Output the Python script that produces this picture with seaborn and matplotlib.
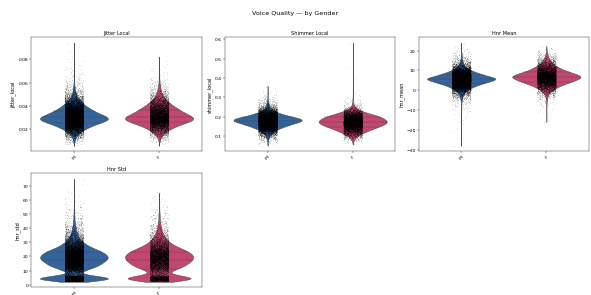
import numpy as np
import pandas as pd
import matplotlib
matplotlib.use("Agg")
import matplotlib.pyplot as plt
import seaborn as sns

# ---------------- data (frequency tables) ----------------
genders = ["M", "F"]
palette_colors = ["#2463ad", "#d6336c"]

jitter_step = 0.002
jitter_levels = [0.006, 0.008, 0.010, 0.012, 0.014, 0.016, 0.018, 0.020, 0.022, 0.024,
                 0.026, 0.028, 0.030, 0.032, 0.034, 0.036, 0.038, 0.040, 0.042, 0.044,
                 0.046, 0.048, 0.050, 0.052, 0.054, 0.056, 0.058, 0.060, 0.062, 0.064,
                 0.066, 0.068, 0.070, 0.072, 0.074, 0.076, 0.078, 0.080, 0.082, 0.084,
                 0.086, 0.088, 0.090, 0.092, 0.094]
jitter_counts_M = [1, 16, 31, 63, 126, 216, 342, 540, 774, 1062,
                   1386, 1728, 1764, 1512, 1242, 990, 792, 612, 468, 342,
                   234, 162, 108, 76, 54, 36, 25, 18, 14, 10,
                   8, 6, 5, 4, 3, 2, 2, 1, 1, 0,
                   1, 0, 1, 0, 1]
jitter_counts_F = [1, 5, 15, 32, 65, 115, 185, 290, 420, 580,
                   760, 950, 960, 850, 720, 600, 500, 400, 310, 235,
                   170, 120, 85, 60, 42, 30, 21, 15, 10, 7,
                   5, 4, 3, 2, 2, 1, 1, 0, 1, 0,
                   0, 0, 0, 0, 0]

shimmer_step = 0.01
shimmer_levels = [0.05, 0.06, 0.07, 0.08, 0.09, 0.10, 0.11, 0.12, 0.13, 0.14,
                  0.15, 0.16, 0.17, 0.18, 0.19, 0.20, 0.21, 0.22, 0.23, 0.24,
                  0.25, 0.26, 0.27, 0.28, 0.29, 0.30, 0.31, 0.32, 0.33, 0.34,
                  0.35, 0.36, 0.40, 0.45, 0.50, 0.583]
shimmer_counts_M = [1, 10, 17, 32, 59, 105, 179, 294, 462, 693,
                    987, 1323, 1722, 2079, 2037, 1470, 1008, 651, 399, 231,
                    137, 84, 53, 32, 21, 13, 8, 6, 4, 2,
                    2, 1, 0, 0, 0, 0]
shimmer_counts_F = [0, 2, 9, 28, 55, 110, 202, 304, 432, 552,
                    690, 828, 920, 902, 828, 736, 570, 386, 221, 110,
                    55, 28, 14, 7, 5, 3, 2, 1, 1, 1,
                    0, 0, 1, 1, 0, 1]

hnr_mean_step = 1.0
hnr_mean_levels = list(range(-28, 25))
hnr_mean_counts_M = [1, 0, 0, 0, 1, 0, 0, 1, 0, 1,
                     0, 1, 1, 1, 1, 2, 2, 3, 4, 6,
                     8, 13, 19, 32, 53, 84, 137, 210, 336, 525,
                     777, 1092, 1470, 1890, 2058, 1638, 1218, 882, 588, 378,
                     231, 147, 95, 63, 42, 27, 17, 11, 6, 4,
                     2, 2, 1]
hnr_mean_counts_F = [0, 0, 0, 0, 0, 0, 0, 0, 0, 0,
                     0, 0, 1, 0, 0, 1, 0, 1, 1, 2,
                     3, 5, 8, 12, 19, 33, 57, 95, 152, 238,
                     342, 475, 627, 779, 903, 950, 836, 665, 494, 380,
                     285, 200, 143, 95, 67, 43, 29, 17, 10, 5,
                     2, 0, 0]

hnr_std_step = 1.0
hnr_std_levels = list(range(2, 46)) + list(range(47, 76, 2))
hnr_std_counts_M = [1, 650, 1080, 980, 520, 170, 95, 137, 228,
                    319, 418, 517, 570, 608, 646, 699, 745, 760, 760,
                    730, 684, 646, 570, 494, 418, 342, 289, 243, 205,
                    167, 137, 114, 99, 84, 72, 62, 53, 46, 38,
                    33, 29, 25, 21, 18,
                    26, 20, 15, 11, 8, 6, 4, 3, 2, 2, 1, 1, 1, 0, 1]
hnr_std_counts_F = [1, 350, 560, 520, 300, 130, 88, 109, 160,
                    210, 260, 302, 328, 349, 370, 395, 412, 420, 420,
                    407, 391, 370, 336, 294, 252, 210, 176, 147, 126,
                    105, 88, 76, 63, 55, 46, 40, 34, 29, 24,
                    21, 18, 16, 13, 11,
                    19, 15, 11, 8, 5, 4, 3, 2, 1, 1, 0, 0, 0, 0, 0]

variables = ["jitter_local", "shimmer_local", "hnr_mean", "hnr_std"]
titles = ["Jitter Local", "Shimmer Local", "Hnr Mean", "Hnr Std"]
tables = {
    "jitter_local": (jitter_levels, jitter_step, jitter_counts_M, jitter_counts_F),
    "shimmer_local": (shimmer_levels, shimmer_step, shimmer_counts_M, shimmer_counts_F),
    "hnr_mean": (hnr_mean_levels, hnr_mean_step, hnr_mean_counts_M, hnr_mean_counts_F),
    "hnr_std": (hnr_std_levels, hnr_std_step, hnr_std_counts_M, hnr_std_counts_F),
}
bw_adjust = {"jitter_local": 1.0, "shimmer_local": 1.5, "hnr_mean": 1.0, "hnr_std": 1.0}


def expand(levels, step, counts):
    """Expand a frequency table: each level's count spread evenly over its bin."""
    out = []
    for lev, c in zip(levels, counts):
        if c <= 0:
            continue
        if c == 1:
            out.append(np.array([lev], dtype=float))
        else:
            out.append(lev + ((np.arange(c) + 0.5) / c - 0.5) * step)
    return np.concatenate(out)


# ---------------- figure ----------------
np.random.seed(3)
DPI = 591 / 18
fig, axes = plt.subplots(2, 3, figsize=(18, 9), dpi=DPI)
fig.subplots_adjust(left=0.053, right=0.9966, top=0.8716, bottom=0.027,
                    wspace=0.137, hspace=0.197)
palette = dict(zip(genders, palette_colors))

for ax, var, title in zip(axes.flat, variables, titles):
    levels, step, cm, cf = tables[var]
    vm = expand(levels, step, cm)
    vf = expand(levels, step, cf)
    df = pd.DataFrame({"gender": ["M"] * len(vm) + ["F"] * len(vf),
                       var: np.concatenate([vm, vf])})
    sns.violinplot(data=df, x="gender", y=var, hue="gender", order=genders,
                   hue_order=genders, palette=palette, inner="quart",
                   density_norm="width", bw_adjust=bw_adjust[var], cut=0,
                   linewidth=1.0, legend=False, ax=ax)
    sns.stripplot(data=df, x="gender", y=var, order=genders, color="black",
                  size=1.8, alpha=0.12, jitter=0.11, ax=ax, zorder=3)
    ax.set_title(title, fontsize=11)
    ax.set_xlabel("")
    ax.set_ylabel(var, fontsize=11)
    ax.tick_params(axis="x", labelrotation=45, labelsize=10)
    ax.tick_params(axis="y", labelsize=10)

axes[1, 1].set_visible(False)
axes[1, 2].set_visible(False)

fig.suptitle("Voice Quality \u2014 by Gender", fontsize=14, y=1 - 14 / 296, va="center")
fig.savefig("out.png", dpi=DPI)
